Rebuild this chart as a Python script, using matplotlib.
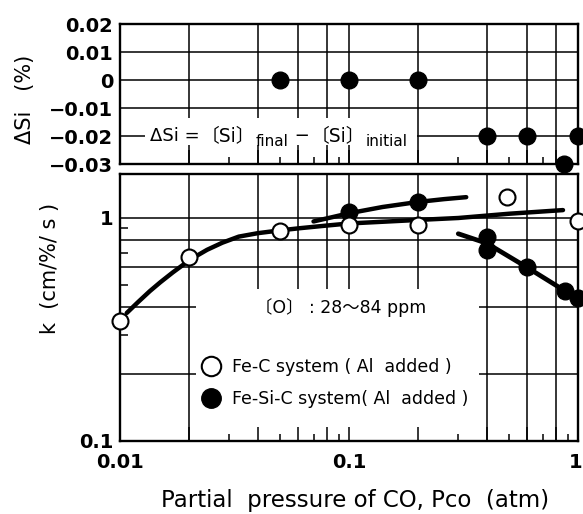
import matplotlib
matplotlib.use("Agg")
import matplotlib.pyplot as plt
import matplotlib.transforms as mtransforms
from matplotlib.ticker import FixedLocator, NullFormatter
from matplotlib.patches import Rectangle
from matplotlib.lines import Line2D

plt.rcParams['font.family'] = ['DejaVu Sans', 'Noto Sans CJK JP']
plt.rcParams['axes.unicode_minus'] = True

# ---------------- data ----------------
# Top panel: delta Si vs P_CO
dsi_x = [0.05, 0.1, 0.2, 0.4, 0.6, 0.87, 1.0]
dsi_y = [0.0, 0.0, 0.0, -0.02, -0.02, -0.03, -0.02]

# Bottom panel: k vs P_CO
fec_x = [0.01, 0.02, 0.05, 0.1, 0.2, 0.49, 1.0]          # Fe-C system (open)
fec_y = [0.346, 0.67, 0.875, 0.93, 0.93, 1.24, 0.97]
fesic_x = [0.1, 0.2, 0.4, 0.4, 0.6, 0.88, 1.0]           # Fe-Si-C system (filled)
fesic_y = [1.06, 1.18, 0.82, 0.72, 0.60, 0.47, 0.44]

# hand-drawn trend curves
fec_curve_x = [0.0107, 0.012, 0.0135, 0.015, 0.017, 0.019, 0.021, 0.024, 0.028,
               0.033, 0.04, 0.05, 0.061, 0.08, 0.1, 0.2, 0.3, 0.5, 0.86]
fec_curve_y = [0.375, 0.42, 0.47, 0.515, 0.57, 0.62, 0.665, 0.72, 0.775,
               0.825, 0.855, 0.88, 0.90, 0.925, 0.945, 0.98, 1.0, 1.045, 1.085]
si_up_x = [0.07, 0.085, 0.1, 0.14, 0.2, 0.26, 0.325]
si_up_y = [0.965, 1.01, 1.05, 1.12, 1.18, 1.215, 1.24]
si_dn_x = [0.30, 0.4, 0.6, 0.88, 1.0]
si_dn_y = [0.85, 0.77, 0.60, 0.47, 0.43]

# ticks / grid
grid_x = [0.01, 0.02, 0.04, 0.06, 0.08, 0.1, 0.2, 0.4, 0.6, 0.8, 1.0]
minor_x = [0.03, 0.05, 0.07, 0.09, 0.3, 0.5, 0.7, 0.9]
xlabels = {0.01: '0.01', 0.1: '0.1', 1.0: '1'}
top_yticks = [0.02, 0.01, 0.0, -0.01, -0.02, -0.03]
top_ylabels = ['0.02', '0.01', '0', '\u22120.01', '\u22120.02', '\u22120.03']
top_grid_y = [0.01, 0.0, -0.01, -0.02]
bot_grid_y = [0.2, 0.4, 0.6, 0.8, 1.0]
bot_minor_y = [0.3, 0.5, 0.7, 0.9]
bot_yticks = [0.1, 1.0]
bot_ylabels = ['0.1', '1']

# ---------------- figure ----------------
W, H = 583, 514
fig = plt.figure(figsize=(W / 100, H / 100), dpi=100)

def fx(px):
    return px / W

def fy(py):
    return 1 - py / H

L, R = 120, 578
ax1 = fig.add_axes([fx(L), fy(164), fx(R - L), (164 - 24) / H])
ax2 = fig.add_axes([fx(L), fy(441), fx(R - L), (441 - 174) / H])

GLW = 1.1
TICKFS = 14
for ax in (ax1, ax2):
    ax.set_xscale('log')
    ax.set_xlim(0.01, 1.0)
    ax.set_axisbelow(False)
    for s in ax.spines.values():
        s.set_linewidth(1.7)
    for gx in grid_x[1:-1]:
        ax.axvline(gx, color='black', lw=GLW, zorder=1)
    ax.xaxis.set_minor_locator(FixedLocator(minor_x))
    ax.xaxis.set_minor_formatter(NullFormatter())
    ax.tick_params(axis='x', which='major', direction='in', length=10, width=1.1,
                   top=False, bottom=True)
    ax.tick_params(axis='x', which='minor', direction='in', length=5, width=1.1,
                   top=False, bottom=True)

# ---- top panel ----
ax1.set_xticks(grid_x, labels=[''] * len(grid_x))
ax1.set_xlim(0.01, 1.0)
ax1.set_ylim(-0.03, 0.02)
for gy in top_grid_y:
    ax1.axhline(gy, color='black', lw=GLW, zorder=1)
ax1.set_yticks(top_yticks, labels=top_ylabels, fontsize=TICKFS, fontweight='bold')
ax1.tick_params(axis='y', which='major', length=0, pad=5)
ax1.add_patch(Rectangle((0.0128, -0.0232), 0.198 - 0.0128, 0.0096,
                        facecolor='white', edgecolor='none', zorder=1.5))
ax1.plot(dsi_x, dsi_y, 'o', color='black', ms=12, zorder=4, clip_on=False)

# formula text
t = ax1.text(0.01352, -0.0201, '\u0394Si =', fontsize=13, ha='left', va='center', zorder=5)
pieces = [('\u3014Si\u3015', 13.5, 0), ('final', 11, -3), (' \u2212', 13, 3),
          ('\u3014Si\u3015', 13.5, 0), ('initial', 11, -3)]
prev = t
for s, fs, dy in pieces:
    prev = ax1.annotate(s, xy=(1, 0), xycoords=prev, xytext=(0.5, dy),
                        textcoords='offset points', fontsize=fs, ha='left',
                        va='bottom', zorder=5)

# ---- bottom panel ----
ax2.set_yscale('log')
ax2.set_xticks(grid_x, labels=[xlabels.get(v, '') for v in grid_x],
               fontsize=TICKFS, fontweight='bold')
ax2.set_xlim(0.01, 1.0)
ax2.set_ylim(0.1, 1.575)
for gy in bot_grid_y:
    ax2.axhline(gy, color='black', lw=GLW, zorder=1)
ax2.set_yticks(bot_yticks, labels=bot_ylabels, fontsize=TICKFS, fontweight='bold')
ax2.yaxis.set_minor_locator(FixedLocator(bot_minor_y))
ax2.yaxis.set_minor_formatter(NullFormatter())
ax2.set_ylim(0.1, 1.575)
ax2.tick_params(axis='y', which='major', length=0, pad=5)
ax2.tick_params(axis='y', which='minor', direction='in', length=6, width=1.1,
                left=True, right=False)
ax2.tick_params(axis='x', which='major', pad=8.5)

# keep the last x tick label ("1") inside the figure edge
last_lbl = ax2.get_xticklabels()[-1]
last_lbl.set_horizontalalignment('right')
last_lbl.set_transform(last_lbl.get_transform() +
                       mtransforms.ScaledTranslation(4 / 100, 0, fig.dpi_scale_trans))

ax2.add_patch(Rectangle((0.0215, 0.1), 0.37 - 0.0215, 0.48 - 0.1,
                        facecolor='white', edgecolor='none', zorder=1.5))

ax2.plot(fec_curve_x, fec_curve_y, '-', color='black', lw=3.2,
         solid_capstyle='round', solid_joinstyle='round', zorder=3)
ax2.plot(si_up_x, si_up_y, '-', color='black', lw=3.2,
         solid_capstyle='round', solid_joinstyle='round', zorder=3)
ax2.plot(si_dn_x, si_dn_y, '-', color='black', lw=3.4,
         solid_capstyle='round', solid_joinstyle='round', zorder=3)
ax2.plot(fesic_x, fesic_y, 'o', color='black', ms=12, zorder=4, clip_on=False)
ax2.plot(fec_x, fec_y, 'o', mfc='white', mec='black', mew=1.5, ms=11.5,
         zorder=4.5, clip_on=False)

ax2.text(0.039, 0.395, '\u3014O\u3015 : 28\uff5e84 ppm', fontsize=12.5,
         ha='left', va='center', zorder=5)

h_open = Line2D([], [], marker='o', ls='none', ms=14, mfc='white',
                mec='black', mew=1.5)
h_fill = Line2D([], [], marker='o', ls='none', ms=14, mfc='black', mec='black')
leg = ax2.legend([h_open, h_fill],
                 ['Fe-C system ( Al  added )', 'Fe-Si-C system( Al  added )'],
                 loc='center left', bbox_to_anchor=(0.179, 0.217),
                 frameon=False, fontsize=12.5, handlelength=1.0,
                 handletextpad=0.75, labelspacing=0.8, borderpad=0,
                 borderaxespad=0, numpoints=1)
leg.set_zorder(6)

# axis labels
fig.text(fx(25), fy(99), '\u0394Si   (%)', rotation=90, fontsize=15,
         ha='center', va='center')
fig.text(fx(50), fy(268), 'k  (cm/%/ s )', rotation=90, fontsize=15,
         ha='center', va='center')
fig.text(fx(355), fy(500), 'Partial  pressure of CO, Pco  (atm)', fontsize=16.5,
         ha='center', va='center')

fig.savefig('out.png', dpi=100)
